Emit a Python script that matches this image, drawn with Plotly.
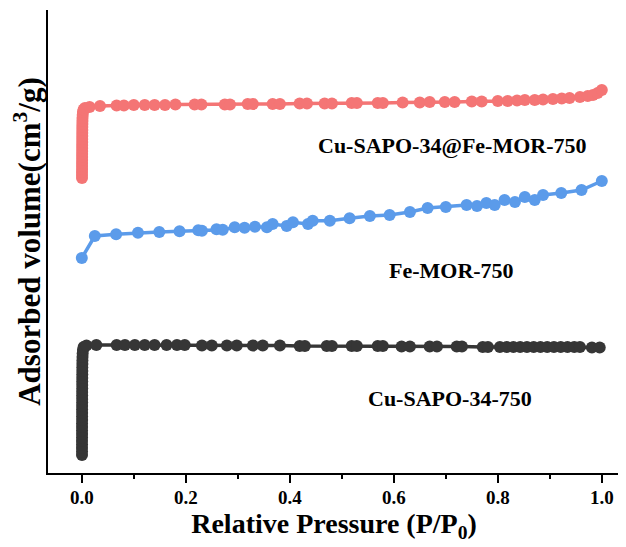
import plotly.graph_objects as go

# ---- data (relative pressure, adsorbed volume in arbitrary offset units) ----
red_x = [0.0004, 0.0004, 0.0004, 0.0005, 0.0005, 0.0005, 0.0006, 0.0006, 0.0006, 0.0007,
         0.0007, 0.0007, 0.0008, 0.0008, 0.0009, 0.0009, 0.0010, 0.0010, 0.0011, 0.0012,
         0.0014, 0.0017, 0.0022, 0.0035, 0.006, 0.015, 0.035, 0.067, 0.081, 0.100,
         0.121, 0.140, 0.160, 0.180, 0.217, 0.230, 0.275, 0.285, 0.319, 0.329,
         0.367, 0.381, 0.419, 0.433, 0.467, 0.481, 0.519, 0.529, 0.569, 0.579,
         0.617, 0.650, 0.669, 0.698, 0.717, 0.750, 0.769, 0.800, 0.819, 0.837,
         0.852, 0.871, 0.887, 0.906, 0.923, 0.938, 0.958, 0.973, 0.983, 0.992, 1.000]
red_y = [295, 298, 301, 304, 307, 310, 313, 316, 319, 322,
         325, 328, 331, 334, 337, 340, 343, 346, 349, 352,
         355, 358, 361, 363.5, 365, 366, 367, 367.5, 367.5, 368,
         368, 368, 368, 368.5, 368.5, 368.5, 368.5, 368.5, 369, 369,
         369, 369, 369.5, 369.5, 369.5, 369.5, 370, 370, 370, 370,
         370.5, 370.5, 371, 371, 371, 371.5, 371.5, 372, 372, 372.5,
         373, 373, 373.5, 374, 374.5, 375, 376, 377, 378, 380, 383]

blue_x = [0.000, 0.025, 0.066, 0.108, 0.149, 0.188, 0.224, 0.231, 0.259, 0.271,
          0.294, 0.313, 0.333, 0.356, 0.367, 0.394, 0.406, 0.435, 0.444, 0.477,
          0.515, 0.554, 0.592, 0.631, 0.665, 0.700, 0.740, 0.760, 0.778, 0.794,
          0.813, 0.833, 0.852, 0.871, 0.887, 0.922, 0.961, 1.000]
blue_y = [215, 237, 238.7, 240.3, 241, 241.7, 242.7, 242.3, 243.7, 243.3,
          245.7, 245.3, 246.3, 245.7, 249, 247, 250.7, 249, 252.3, 252.3,
          254.7, 257, 258, 261, 265, 266, 268, 267, 270, 268,
          273, 271, 276, 273, 278, 280, 283, 292]

black_x = [0.0004, 0.0004, 0.0004, 0.0004, 0.0004, 0.0005, 0.0005, 0.0005, 0.0005, 0.0005,
           0.0006, 0.0006, 0.0006, 0.0006, 0.0006, 0.0007, 0.0007, 0.0007, 0.0007, 0.0008,
           0.0008, 0.0008, 0.0009, 0.0009, 0.0010, 0.0010, 0.0011, 0.0012, 0.0014, 0.0017,
           0.0022, 0.0035, 0.009, 0.028, 0.067, 0.083, 0.102, 0.121, 0.140, 0.163,
           0.183, 0.198, 0.231, 0.250, 0.279, 0.298, 0.329, 0.348, 0.381, 0.419,
           0.429, 0.471, 0.481, 0.519, 0.529, 0.569, 0.579, 0.615, 0.631, 0.669,
           0.683, 0.721, 0.731, 0.771, 0.781, 0.804, 0.817, 0.830, 0.843, 0.856,
           0.869, 0.882, 0.895, 0.908, 0.921, 0.934, 0.947, 0.958, 0.981, 0.996]
black_y = [18, 21.5, 25, 28.5, 32, 35.5, 39, 42.5, 46, 49.5,
           53, 56.5, 60, 63.5, 67, 70.5, 74, 77.5, 81, 84.5,
           88, 91.5, 95, 98.5, 102, 105.5, 109, 112.5, 116, 119.5,
           123, 126, 127.5, 128, 128, 128, 128, 128, 128, 128,
           128, 128, 127.5, 127.5, 127.5, 127.5, 127.5, 127.5, 127.5, 127,
           127, 127, 127, 127, 127, 127, 127, 126.5, 126.5, 126.5,
           126.5, 126.5, 126.5, 126, 126, 126, 126, 126, 126, 126,
           126, 126, 126, 126, 126, 126, 126, 126, 125.5, 125.5]

series_names = ["Cu-SAPO-34@Fe-MOR-750", "Fe-MOR-750", "Cu-SAPO-34-750"]
label_pos = [(0.713, 328), (0.71, 203), (0.708, 75)]

FONT = "Liberation Serif, Times New Roman, serif"
colors = ["#F47575", "#5B9BEA", "#363636"]

fig = go.Figure()
for xs, ys, c, n in [(black_x, black_y, colors[2], series_names[2]),
                     (blue_x, blue_y, colors[1], series_names[1]),
                     (red_x, red_y, colors[0], series_names[0])]:
    fig.add_trace(go.Scatter(x=xs, y=ys, mode="lines+markers", name=n,
                             line=dict(color=c, width=3.5),
                             marker=dict(color=c, size=12, line=dict(width=0)),
                             showlegend=False, cliponaxis=False))

for (lx, ly), n in zip(label_pos, series_names):
    fig.add_annotation(x=lx, y=ly, text=n, showarrow=False,
                       font=dict(family=FONT, size=22, color="black", weight="bold"))

# the page body adds an 8px offset; size the figure so it fits the 626x547 window
fig.update_layout(
    width=618, height=539,
    margin=dict(l=40, r=6, t=2, b=74),
    paper_bgcolor="white", plot_bgcolor="white",
    xaxis=dict(range=[-0.065, 1.035], tick0=0, dtick=0.2, tickformat=".1f",
               automargin=False,
               showgrid=False, zeroline=False,
               showline=True, linecolor="black", linewidth=2,
               ticks="outside", ticklen=8, tickwidth=2, tickcolor="black",
               ticklabelstandoff=-2,
               minor=dict(dtick=0.1, ticks="outside", ticklen=4, tickwidth=2,
                          tickcolor="black", showgrid=False),
               tickfont=dict(family=FONT, size=19, color="black", weight="bold"),
               title=dict(text="Relative Pressure (P/P<sub>0</sub>)", standoff=4,
                          font=dict(family=FONT, size=28, color="black", weight="bold"))),
    yaxis=dict(range=[0, 463], showgrid=False, zeroline=False, automargin=False,
               showline=True, linecolor="black", linewidth=2,
               showticklabels=False, ticks="",
               title=dict(text="Adsorbed volume(cm<sup>3</sup>/g)", standoff=10,
                          font=dict(family=FONT, size=31, color="black", weight="bold"))),
)

fig.write_html("out.html")
